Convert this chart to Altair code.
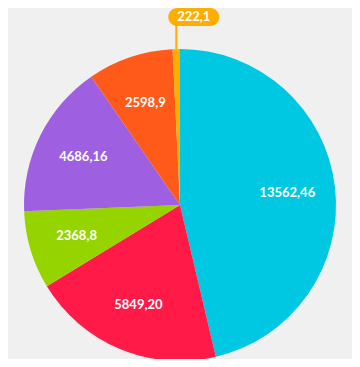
import altair as alt
import pandas as pd

labels = ["13562,46", "5849,20", "2368,8", "4686,16", "2598,9", "222,1"]
values = [13562.46, 5849.20, 2368.8, 4686.16, 2598.9, 222.1]
colors = ["#00c8e2", "#ff1a48", "#96d400", "#9e5fe0", "#ff5a1a", "#ffae00"]
order = [0, 1, 2, 3, 4, 5]

df = pd.DataFrame({"label": labels, "value": values, "color": colors, "order": order})

CX, CY, R = 172, 197, 156
FONT = "Lato"

base = alt.Chart(df)

pie = base.mark_arc(outerRadius=R).encode(
    theta=alt.Theta("value:Q", stack=True),
    color=alt.Color("color:N", scale=None),
    order=alt.Order("order:Q"),
    x=alt.value(CX),
    y=alt.value(CY),
)

text = base.mark_text(radius=108, font=FONT, fontWeight="bold", fontSize=13,
                      color="white").encode(
    theta=alt.Theta("value:Q", stack=True),
    order=alt.Order("order:Q"),
    text=alt.condition("datum.value > 1000", "label:N", alt.value("")),
    x=alt.value(CX),
    y=alt.value(CY),
)

small = base.transform_joinaggregate(total="sum(value)").transform_window(
    cum="sum(value)", sort=[alt.SortField("order")], frame=[None, 0]
).transform_calculate(
    mid="2*PI*(datum.cum - datum.value/2)/datum.total"
).transform_filter("datum.order == 5").transform_calculate(
    px=f"{CX} + {R}*sin(datum.mid)",
    py=f"{CY} - {R}*cos(datum.mid)",
    bx="datum.px - 8",
    bx2="datum.px + 43",
    tx="datum.px + 17.5",
)

connector = small.mark_rule(color="#ffae00", strokeWidth=2).encode(
    x=alt.X("px:Q", scale=None, axis=None),
    y=alt.Y("py:Q", scale=None, axis=None),
    y2=alt.value(17),
)

box = small.mark_rect(color="#ffae00", cornerRadius=9).encode(
    x=alt.X("bx:Q", scale=None, axis=None),
    x2="bx2:Q",
    y=alt.value(0),
    y2=alt.value(18),
)

small_text = small.mark_text(font=FONT, fontWeight="bold", fontSize=13,
                             color="white", baseline="middle").encode(
    x=alt.X("tx:Q", scale=None, axis=None),
    y=alt.value(9),
    text="label:N",
)

chart = alt.layer(pie, text, connector, box, small_text).properties(
    width=344, height=351, padding=0, autosize="none"
).configure(background="#f0f0f0").configure_view(stroke=None)

chart.save("out.html", embed_options={"renderer": "svg", "actions": False})
